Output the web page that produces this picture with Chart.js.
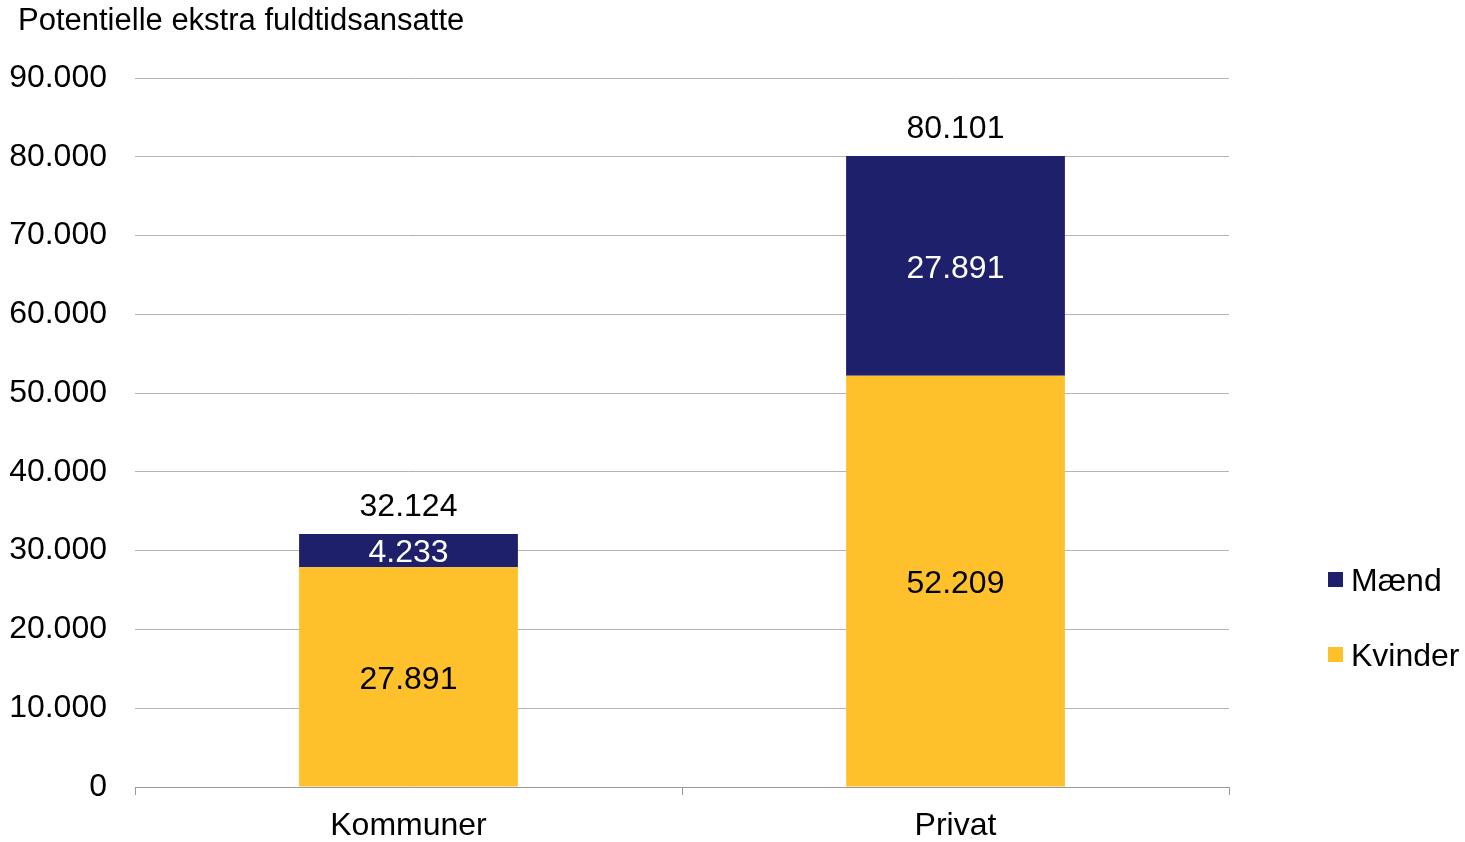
<!DOCTYPE html>
<html>
<head>
<meta charset="utf-8">
<script src="https://cdn.jsdelivr.net/npm/chart.js@4"></script>
<style>
  body { margin: 0; background: #fff; }
  #wrap { width: 1465px; height: 842px; position: relative; }
</style>
</head>
<body>
<div id="wrap"><canvas id="chart"></canvas></div>
<script>
const categories = ["Kommuner", "Privat"];
const kvinder = [27891, 52209];
const maend = [4233, 27891];
const totals = [32124, 80101];
const yTicks = [0, 10000, 20000, 30000, 40000, 50000, 60000, 70000, 80000, 90000];
const titleText = "Potentielle ekstra fuldtidsansatte";

const FONT = "'Liberation Sans', Arial, sans-serif";
const NAVY = "#1f206b";
const YELLOW = "#fec12b";

function fmt(v) {
  return String(v).replace(/\B(?=(\d{3})+(?!\d))/g, ".");
}

// value labels inside bars and totals above them
const labelPlugin = {
  id: "labels",
  afterDatasetsDraw(chart) {
    const ctx = chart.ctx;
    ctx.save();
    ctx.font = "32px " + FONT;
    ctx.textAlign = "center";
    ctx.textBaseline = "middle";
    chart.data.datasets.forEach((ds, i) => {
      const meta = chart.getDatasetMeta(i);
      meta.data.forEach((bar, j) => {
        ctx.fillStyle = ds.labelColor;
        ctx.fillText(fmt(ds.data[j]), bar.x, (bar.y + bar.base) / 2 + 3);
      });
    });
    const top = chart.getDatasetMeta(chart.data.datasets.length - 1);
    top.data.forEach((bar, j) => {
      ctx.fillStyle = "#000";
      ctx.fillText(fmt(totals[j]), bar.x, bar.y - 27);
    });
    ctx.restore();
  }
};

// axis title top-left and legend on the right (top series first)
const sidePlugin = {
  id: "side",
  afterDraw(chart) {
    const ctx = chart.ctx;
    ctx.save();
    ctx.textBaseline = "middle";
    ctx.fillStyle = "#000";
    ctx.font = "31px " + FONT;
    ctx.fillText(titleText, 18, 21);
    ctx.font = "32px " + FONT;
    const items = chart.data.datasets.slice().reverse();
    items.forEach((ds, i) => {
      const y = 580 + i * 75;
      ctx.fillStyle = ds.backgroundColor;
      ctx.fillRect(1328, y - 8, 15, 15);
      ctx.fillStyle = "#000";
      ctx.fillText(ds.label, 1351, y + 2);
    });
    ctx.restore();
  }
};

new Chart(document.getElementById("chart"), {
  type: "bar",
  data: {
    labels: categories,
    datasets: [
      { label: "Kvinder", data: kvinder, backgroundColor: YELLOW, labelColor: "#000" },
      { label: "Mænd", data: maend, backgroundColor: NAVY, labelColor: "#fff" }
    ]
  },
  options: {
    responsive: true,
    maintainAspectRatio: false,
    animation: false,
    datasets: { bar: { categoryPercentage: 1, barPercentage: 0.4 } },
    layout: { padding: { left: 8, right: 236, top: 78, bottom: 0 } },
    plugins: {
      legend: { display: false },
      tooltip: { enabled: false },
      title: { display: false }
    },
    scales: {
      x: {
        stacked: true,
        afterFit(axis) { axis.height = 55; },
        grid: { offset: true, drawOnChartArea: false, drawTicks: true, tickLength: 8, color: "#9a9a9a" },
        border: { color: "#9a9a9a" },
        ticks: { color: "#000", padding: 12, font: { family: FONT, size: 32 } }
      },
      y: {
        stacked: true,
        min: 0,
        max: 90000,
        afterBuildTicks(axis) { axis.ticks = yTicks.map(v => ({ value: v })); },
        afterFit(axis) { axis.width = 127; },
        grid: { color: "#b4b4b4", drawTicks: false },
        border: { display: false },
        ticks: { color: "#000", padding: 28, font: { family: FONT, size: 32 }, callback: v => fmt(v) }
      }
    }
  },
  plugins: [labelPlugin, sidePlugin]
});
</script>
</body>
</html>
